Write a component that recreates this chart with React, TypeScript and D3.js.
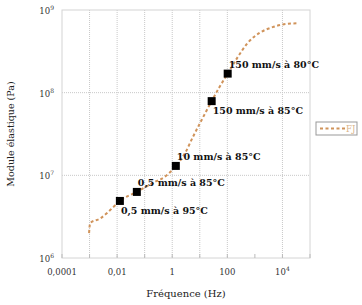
import { useEffect, useRef } from 'react';
import * as d3 from 'd3';

// curve FJ (frequency Hz, modulus Pa)
const curveFreq = [0.00096, 0.00105, 0.0024, 0.0071, 0.0126, 0.052, 0.2, 0.63, 1.35, 2.9, 5.6, 11.8, 27, 52, 103, 240, 550, 1500, 4400, 14000, 35000];
const curveMod = [2.0e6, 2.65e6, 3.0e6, 4.1e6, 4.9e6, 6.3e6, 8.1e6, 1.0e7, 1.3e7, 1.85e7, 2.9e7, 4.7e7, 7.9e7, 1.17e8, 1.7e8, 2.7e8, 4.0e8, 5.3e8, 6.2e8, 6.8e8, 6.9e8];

// marked test points
const markFreq = [0.0126, 0.052, 1.35, 27, 103];
const markMod = [4.9e6, 6.3e6, 1.3e7, 7.9e7, 1.7e8];
const markLabels = ['0,5 mm/s à 95°C', '0,5 mm/s à 85°C', '10 mm/s à 85°C', '150 mm/s à 85°C', '150 mm/s à 80°C'];
const markLabelBelow = [true, false, false, true, false];

const xTickValues = [1e-4, 1e-2, 1, 100, 1e4];
const xTickLabels = ['0,0001', '0,01', '1', '100', '10'];
const xTickSup = ['', '', '', '', '4'];
const yTickValues = [1e6, 1e7, 1e8, 1e9];
const yTickExp = ['6', '7', '8', '9'];

const seriesName = 'FJ';

const SERIF = 'DejaVu Serif, serif';

export default function App() {
  const ref = useRef<SVGSVGElement>(null);

  useEffect(() => {
    if (!ref.current) return;
    const width = 362;
    const height = 305;
    const m = { top: 10, right: 52, bottom: 47, left: 62 };

    const svg = d3.select(ref.current);
    svg.selectAll('*').remove();
    svg.attr('width', width).attr('height', height)
      .attr('font-family', SERIF);

    const x = d3.scaleLog().domain([1e-4, 1e5]).range([m.left, width - m.right]);
    const y = d3.scaleLog().domain([1e6, 1e9]).range([height - m.bottom, m.top]);

    const grid = svg.append('g');
    // vertical gridlines (excel omitted 10^3)
    const vGrid = [1e-3, 1e-2, 1e-1, 1, 10, 100, 1e4];
    grid.selectAll('line.v').data(vGrid).join('line')
      .attr('x1', d => x(d)).attr('x2', d => x(d))
      .attr('y1', m.top).attr('y2', height - m.bottom)
      .attr('stroke', '#c8c8c8').attr('stroke-dasharray', '1,1');
    grid.selectAll('line.h').data([1e7, 1e8]).join('line')
      .attr('x1', m.left).attr('x2', width - m.right)
      .attr('y1', d => y(d)).attr('y2', d => y(d))
      .attr('stroke', '#c8c8c8').attr('stroke-dasharray', '1,1');

    svg.append('rect')
      .attr('x', m.left).attr('y', m.top)
      .attr('width', width - m.left - m.right).attr('height', height - m.top - m.bottom)
      .attr('fill', 'none').attr('stroke', '#d4d4d4');

    // small ticks on bottom axis, each decade
    const decades = d3.range(-4, 6).map(e => Math.pow(10, e));
    svg.append('g').selectAll('line').data(decades).join('line')
      .attr('x1', d => x(d)).attr('x2', d => x(d))
      .attr('y1', height - m.bottom).attr('y2', height - m.bottom - 4)
      .attr('stroke', '#bbb');

    // x tick labels
    const xl = svg.append('g').attr('font-size', 8.5).attr('fill', '#333');
    xTickValues.forEach((v, i) => {
      const t = xl.append('text')
        .attr('x', x(v)).attr('y', height - m.bottom + 17)
        .attr('text-anchor', 'middle');
      t.append('tspan').text(xTickLabels[i]);
      if (xTickSup[i]) t.append('tspan').attr('dy', -4).attr('font-size', 6).text(xTickSup[i]);
    });

    // y tick labels
    const yl = svg.append('g').attr('font-size', 8.5).attr('fill', '#333');
    yTickValues.forEach((v, i) => {
      const t = yl.append('text')
        .attr('x', m.left - 8).attr('y', y(v) + 4)
        .attr('text-anchor', 'end');
      t.append('tspan').text('10');
      t.append('tspan').attr('dy', -4).attr('font-size', 6).text(yTickExp[i]);
    });

    // axis titles
    svg.append('text')
      .attr('x', (m.left + width - m.right) / 2).attr('y', height - 8)
      .attr('text-anchor', 'middle').attr('font-size', 10).attr('fill', '#222')
      .text('Fréquence (Hz)');
    svg.append('text')
      .attr('transform', `translate(14,${(m.top + height - m.bottom) / 2}) rotate(-90)`)
      .attr('text-anchor', 'middle').attr('font-size', 9.5).attr('fill', '#222')
      .text('Module élastique (Pa)');

    // curve
    const pts = curveFreq.map((f, i) => [f, curveMod[i]] as [number, number]);
    const line = d3.line<[number, number]>()
      .x(d => x(d[0])).y(d => y(d[1]))
      .curve(d3.curveMonotoneX);
    svg.append('path')
      .attr('d', line(pts))
      .attr('fill', 'none').attr('stroke', '#d0935a')
      .attr('stroke-width', 2).attr('stroke-dasharray', '3,2.5');

    // markers
    svg.append('g').selectAll('rect').data(markFreq).join('rect')
      .attr('x', (d) => x(d) - 4).attr('y', (d, i) => y(markMod[i]) - 4)
      .attr('width', 8).attr('height', 8).attr('fill', '#000');

    // annotation labels
    svg.append('g').selectAll('text').data(markFreq).join('text')
      .attr('x', d => x(d) + 1)
      .attr('y', (d, i) => y(markMod[i]) + (markLabelBelow[i] ? 13 : -6))
      .attr('font-size', 9.5).attr('font-weight', 'bold').attr('fill', '#111')
      .text((d, i) => markLabels[i]);

    // legend
    const lg = svg.append('g').attr('transform', 'translate(316,122)');
    lg.append('rect').attr('width', 41).attr('height', 13)
      .attr('fill', '#fff').attr('stroke', '#999');
    lg.append('line').attr('x1', 4).attr('x2', 29).attr('y1', 6.5).attr('y2', 6.5)
      .attr('stroke', '#d0935a').attr('stroke-width', 2).attr('stroke-dasharray', '3,2.5');
    lg.append('text').attr('x', 30).attr('y', 10).attr('font-size', 8.5)
      .attr('fill', '#d9b48a').text(seriesName);
  }, []);

  return (
    <svg ref={ref} style={{ position: 'absolute', left: 0, top: 0 }} />
  );
}
